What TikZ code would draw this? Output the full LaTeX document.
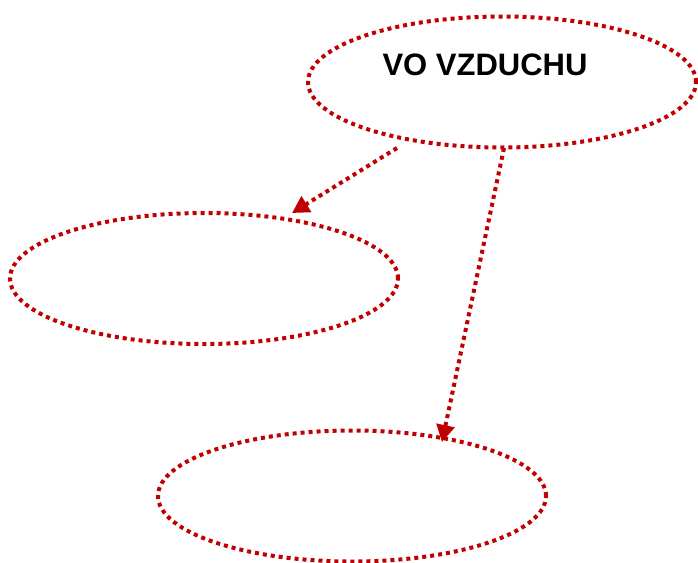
\documentclass[tikz,border=0pt]{standalone}
\usepackage{fontspec}
\setmainfont{Liberation Sans}
\usetikzlibrary{shapes.geometric,arrows.meta}
\definecolor{dred}{RGB}{192,0,0}
\tikzset{
  dotline/.style={draw=dred, line width=4pt, dash pattern=on 4pt off 4pt},
  oval/.style={ellipse, dotline, minimum width=388pt, minimum height=131pt, inner sep=0pt},
  conn/.style={dotline, -{Triangle[length=17pt,width=18pt,fill=dred]}},
  lbl/.style={font=\fontsize{31pt}{36pt}\selectfont\bfseries, text=black, inner sep=0pt}
}
\begin{document}
\begin{tikzpicture}[x=1pt,y=-1pt]
\useasboundingbox (0,0) rectangle (698,562);
\node[oval] (e1) at (502,82) {};
\node[lbl] (t1) at (485,65) {VO VZDUCHU};
\node[oval] (e2) at (204,278.5) {};
\node[oval] (e3) at (352,496) {};
\draw[conn] ([shift={(-105,66)}]e1.center) -- ([shift={(88,-65.5)}]e2.center);
\draw[conn] ([shift={(2,66)}]e1.center) -- ([shift={(90,-54)}]e3.center);
\end{tikzpicture}
\end{document}
